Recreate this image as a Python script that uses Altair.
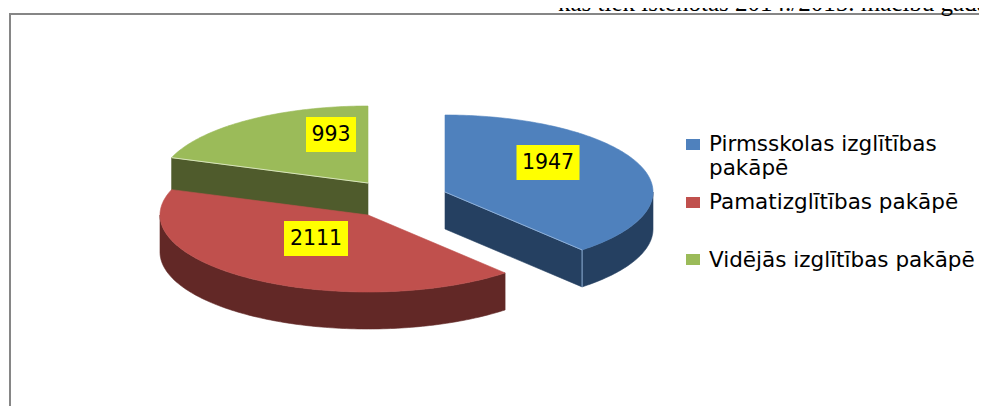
import math
import altair as alt
import pandas as pd

categories = ["Pirmsskolas izglītības pakāpē", "Pamatizglītības pakāpē", "Vidējās izglītības pakāpē"]
values = [1947, 2111, 993]
top_colors = ["#4F81BD", "#C0504D", "#9BBB59"]
wall_colors = ["#254061", "#622826", "#4F5B2C"]
edge_colors = ["#8FB0D8", None, "#D8E4BC"]
# exploded slice apex in page pixels
apex = [(445, 192), (368, 215), (368, 183)]
label_centers = [(548, 162.5), (316, 238.5), (331, 134.5)]
label_widths = [63, 64, 50]
legend_lines = [["Pirmsskolas izglītības", "pakāpē"], ["Pamatizglītības pakāpē"], ["Vidējās izglītības pakāpē"]]
legend_text_y = [[145, 169], [203], [261]]
legend_box_y = [(139, 150), (197, 208), (254, 265)]
heading = "kas tiek īstenotas 2014./2015. mācību gadā"
RX, RY, DEPTH = 208, 77, 37
W, H = 971, 398
SX = alt.Scale(domain=[8, 979])
SY = alt.Scale(domain=[406, 8])
X = alt.X("x:Q", scale=SX, axis=None)
Y = alt.Y("y:Q", scale=SY, axis=None)

total = sum(values)
spans, a = [], 0.0
for v in values:
    spans.append((a, a + v / total * 360))
    a += v / total * 360


def pt(c, deg, dz=0):
    r = math.radians(deg)
    return (c[0] + RX * math.sin(r), c[1] - RY * math.cos(r) + dz)


def arc(c, a0, a1, dz=0):
    n = max(2, int(abs(a1 - a0)) + 1)
    return [pt(c, a0 + (a1 - a0) * i / (n - 1), dz) for i in range(n)]


def poly(points, color, stroke=None, sw=0.6):
    df = pd.DataFrame(points, columns=["x", "y"])
    df["i"] = range(len(df))
    return alt.Chart(df).mark_line(
        fill=color, stroke=stroke or color, strokeWidth=sw, interpolate="linear-closed"
    ).encode(x=X, y=Y, order="i:Q")


def segment(p, q, color, sw=1):
    df = pd.DataFrame([p, q], columns=["x", "y"])
    df["i"] = [0, 1]
    return alt.Chart(df).mark_line(color=color, strokeWidth=sw).encode(x=X, y=Y, order="i:Q")


layers = []
# frame
layers.append(segment((10, 14), (10, 406), "#868686", 2))
layers.append(segment((9, 14), (987, 14), "#868686", 2))

# green
c = apex[2]; s = spans[2]
e = pt(c, s[0])
layers.append(poly([c, e, (e[0], e[1] + DEPTH), (c[0], c[1] + DEPTH)], wall_colors[2]))
layers.append(poly([c] + arc(c, *s), top_colors[2]))
layers.append(segment(c, e, edge_colors[2]))
# red
c = apex[1]; s = spans[1]
front = arc(c, s[0], 270)
layers.append(poly(front + [(x, y + DEPTH) for x, y in reversed(front)], wall_colors[1]))
layers.append(poly([c] + arc(c, *s), top_colors[1]))
# blue
c = apex[0]; s = spans[0]
e = pt(c, s[1])
layers.append(poly([c, e, (e[0], e[1] + DEPTH), (c[0], c[1] + DEPTH)], wall_colors[0]))
front = arc(c, 90, s[1])
layers.append(poly(front + [(x, y + DEPTH) for x, y in reversed(front)], wall_colors[0]))
layers.append(poly([c] + arc(c, *s), top_colors[0]))
layers.append(segment(c, e, edge_colors[0]))
layers.append(segment(e, (e[0], e[1] + DEPTH), edge_colors[0]))

# value labels
lab = pd.DataFrame({
    "x": [p[0] for p in label_centers], "y": [p[1] for p in label_centers],
    "x0": [p[0] - w / 2 for p, w in zip(label_centers, label_widths)],
    "x1": [p[0] + w / 2 for p, w in zip(label_centers, label_widths)],
    "y0": [p[1] - 17.5 for p in label_centers], "y1": [p[1] + 17.5 for p in label_centers],
    "v": [str(v) for v in values],
})
layers.append(alt.Chart(lab).mark_rect(color="#FFFF00").encode(
    x=alt.X("x0:Q", scale=SX, axis=None), x2="x1:Q",
    y=alt.Y("y0:Q", scale=SY, axis=None), y2="y1:Q"))
layers.append(alt.Chart(lab).mark_text(font="DejaVu Sans", fontSize=20.5, color="#000000", baseline="middle").encode(
    x=X, y=Y, text="v:N"))

# legend
leg_box = pd.DataFrame({
    "x0": [686] * 3, "x1": [700] * 3,
    "y0": [b[0] for b in legend_box_y], "y1": [b[1] for b in legend_box_y], "c": top_colors,
})
layers.append(alt.Chart(leg_box).mark_rect().encode(
    x=alt.X("x0:Q", scale=SX, axis=None), x2="x1:Q",
    y=alt.Y("y0:Q", scale=SY, axis=None), y2="y1:Q",
    color=alt.Color("c:N", scale=None)))
rows = [{"x": 709, "y": y, "t": t}
        for ls, ys in zip(legend_lines, legend_text_y) for t, y in zip(ls, ys)]
layers.append(alt.Chart(pd.DataFrame(rows)).mark_text(
    font="DejaVu Sans", fontSize=21.5, color="#000000", align="left", baseline="middle").encode(x=X, y=Y, text="t:N"))

# heading cut off by the page top
layers.append(alt.Chart(pd.DataFrame({"x": [558], "y": [11], "t": [heading]})).mark_text(
    font="Liberation Serif", fontSize=25, color="#000000", align="left", baseline="alphabetic").encode(x=X, y=Y, text="t:N"))

chart = alt.layer(*layers).properties(
    width=W, height=H, padding=0, autosize=alt.AutoSizeParams(type="none"), background="#FFFFFF"
).configure_view(stroke=None)
chart.save("out.html", embed_options={"renderer": "svg", "actions": False})
